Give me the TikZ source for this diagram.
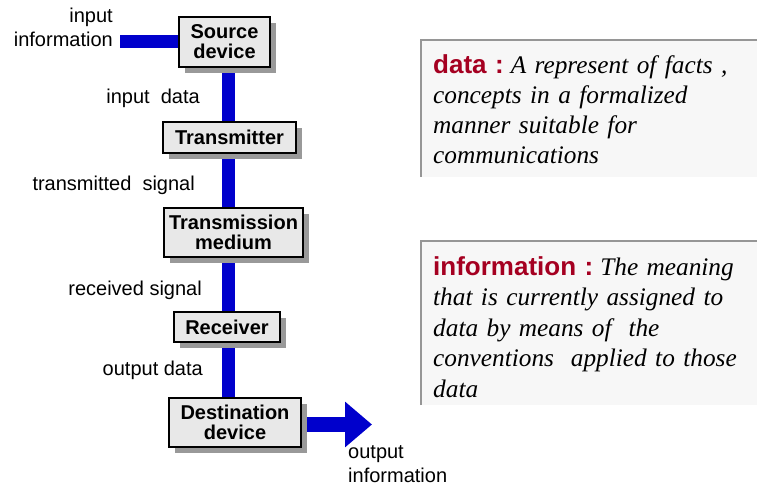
\documentclass[tikz,border=0pt]{standalone}
\usepackage{fontspec}
\setmainfont{Liberation Serif}
\setsansfont{Liberation Sans}
\usetikzlibrary{shadows,arrows.meta,backgrounds}
\definecolor{barblue}{RGB}{0,0,204}
\definecolor{boxgray}{RGB}{232,232,232}
\definecolor{shadowgray}{RGB}{153,153,153}
\definecolor{deffill}{RGB}{247,247,247}
\definecolor{defline}{RGB}{150,150,150}
\definecolor{defred}{RGB}{165,0,33}
\newcommand{\termword}[1]{{\fontsize{26}{30}\sffamily\bfseries\upshape\color{defred}#1}\hspace{7pt}}
\begin{document}
\begin{tikzpicture}[x=1pt,y=-1pt,
  dev/.style={draw=black, line width=2pt, fill=boxgray, inner sep=0pt,
    font=\sffamily\bfseries\fontsize{20}{20}\selectfont, align=center,
    drop shadow={shadow xshift=6pt, shadow yshift=-6pt, fill=shadowgray, opacity=1}},
  bar/.style={draw=barblue, line width=13pt},
  lbl/.style={font=\sffamily\fontsize{20}{24}\selectfont, inner sep=0pt},
  defbox/.style={fill=deffill},
  defedge/.style={draw=defline, line width=1.5pt},
  deftext/.style={anchor=base west, text width=320pt, inner sep=0pt, align=left,
    font=\itshape\fontsize{25.3}{30.5}\selectfont}]
\useasboundingbox (0,0) rectangle (757,486);

% device boxes
\node[dev, minimum width=91pt, minimum height=50pt] (src) at (224.5,42) {Source\\device};
\node[dev, minimum width=133pt, minimum height=31pt] (tx) at (229.5,137.5) {Transmitter};
\node[dev, minimum width=139pt, minimum height=49pt] (med) at (233.5,232.5) {Transmission\\medium};
\node[dev, minimum width=106pt, minimum height=30pt] (rx) at (227,327) {Receiver};
\node[dev, minimum width=132pt, minimum height=49pt] (dst) at (235,422.5) {Destination\\device};

\coordinate (bx) at (228.5,0);
\coordinate (inp) at (120,41.5);
\coordinate (oend) at (372,424.5);

\begin{scope}[on background layer]
  \draw[bar] (inp) -- (inp -| src.west);
  \draw[bar] (src.south -| bx) -- (tx.north -| bx);
  \draw[bar] (tx.south -| bx) -- (med.north -| bx);
  \draw[bar] (med.south -| bx) -- (rx.north -| bx);
  \draw[bar] (rx.south -| bx) -- (dst.north -| bx);
  \draw[barblue, line width=15pt, -{Triangle[length=27pt 0 0, width=44pt 0 0]}]
    (oend -| dst.east) -- (oend);
\end{scope}

% labels
\node[lbl, anchor=base east] (l1a) at (113,23) {input};
\node[lbl, anchor=base east] (l1b) at (113,47) {information};
\node[lbl, anchor=base east] (l2) at (200,104) {input\ \ data};
\node[lbl, anchor=base east] (l3) at (195,191) {transmitted\ \ signal};
\node[lbl, anchor=base east] (l4) at (202,295) {received signal};
\node[lbl, anchor=base east] (l5) at (203,375) {output data};
\node[lbl, anchor=base west] (l6a) at (348,458) {output};
\node[lbl, anchor=base west] (l6b) at (348,482) {information};

% definition boxes
\fill[defbox] (421,40) rectangle (757,177);
\draw[defedge] (421,177) -- (421,40) -- (757,40);
\node[deftext, font=\itshape\fontsize{25.3}{30}\selectfont] (ddata) at (433,74)
  {\termword{data :}A represent of facts ,\\
   concepts in a formalized\\
   manner suitable for\\
   communications};

\fill[defbox] (421,241) rectangle (757,405);
\draw[defedge] (421,405) -- (421,241) -- (757,241);
\node[deftext] (dinfo) at (433,275)
  {\termword{information :}The meaning\\
   that is currently assigned to\\
   data by means of\ \ the\\
   conventions\ \ applied to those\\
   data};
\end{tikzpicture}
\end{document}
